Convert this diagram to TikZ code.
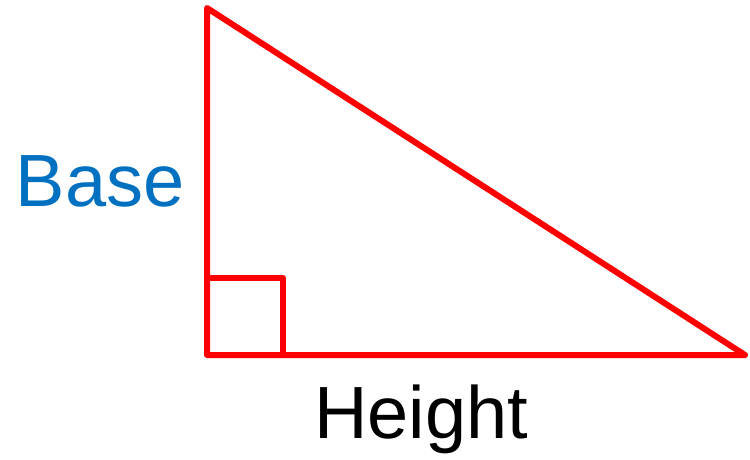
\documentclass[tikz,border=0pt]{standalone}
\usepackage{fontspec}
\setmainfont{Liberation Sans}
\definecolor{tri}{RGB}{255,0,0}
\definecolor{baseblue}{RGB}{0,112,192}
\begin{document}
\begin{tikzpicture}[x=1pt,y=-1pt,
  edge/.style={draw=tri,line width=6pt,line join=round,line cap=round},
  lbl/.style={inner sep=0pt,anchor=base,font=\fontsize{74}{88}\selectfont}]
\useasboundingbox (0,0) rectangle (750,459);
\coordinate (T) at (207,8);
\coordinate (L) at (207,355);
\coordinate (R) at (745,355);
\coordinate (S1) at (207,278);
\coordinate (S2) at (283,278);
\coordinate (S3) at (283,355);
\draw[edge] (T) -- (L) -- (R) -- cycle;
\draw[edge] (S1) -- (S2) -- (S3);
\node[lbl,text=baseblue] (base) at (100,206) {Base};
\node[lbl,text=black] (height) at (421,438) {Height};
\end{tikzpicture}
\end{document}
